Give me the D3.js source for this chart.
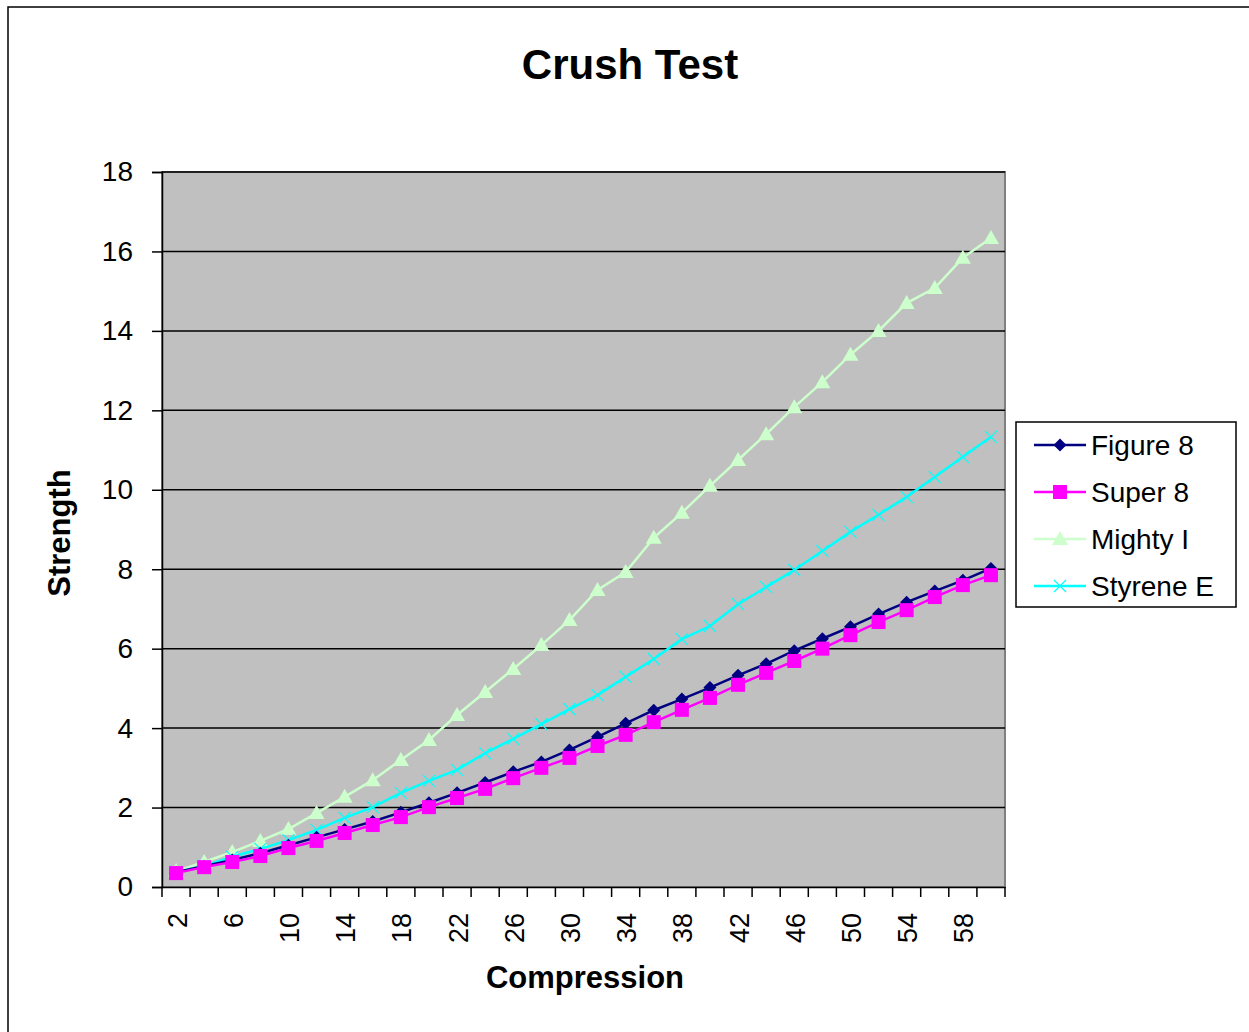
<!DOCTYPE html>
<html><head><meta charset="utf-8">
<script src="https://cdn.jsdelivr.net/npm/d3@7"></script>
<style>body{margin:0;background:#fff;font-family:"Liberation Sans",Arial,sans-serif}</style>
</head><body><svg id="c" width="1249" height="1032"></svg>
<script>
const categories = d3.range(2, 61, 2);
const figure8 = [0.37,0.52,0.68,0.85,1.05,1.25,1.45,1.65,1.88,2.12,2.37,2.63,2.9,3.15,3.45,3.78,4.12,4.45,4.73,5.02,5.33,5.62,5.95,6.25,6.55,6.87,7.17,7.45,7.72,8.02];
const super8 = [0.35,0.5,0.63,0.78,0.98,1.16,1.36,1.56,1.76,2.01,2.24,2.47,2.74,3.0,3.25,3.55,3.83,4.15,4.46,4.76,5.09,5.39,5.69,6.0,6.34,6.67,6.97,7.3,7.6,7.85];
const mightyI = [0.4,0.63,0.88,1.16,1.46,1.86,2.27,2.69,3.2,3.7,4.33,4.91,5.49,6.09,6.72,7.48,7.93,8.79,9.42,10.1,10.75,11.4,12.08,12.71,13.4,14.0,14.7,15.08,15.84,16.34];
const styreneE = [0.38,0.53,0.76,0.96,1.18,1.44,1.74,2.01,2.37,2.67,2.95,3.37,3.73,4.1,4.48,4.83,5.29,5.74,6.24,6.57,7.12,7.55,7.98,8.46,8.94,9.37,9.82,10.32,10.83,11.33];
const yTicks = [0,2,4,6,8,10,12,14,16,18];
const seriesNames = ["Figure 8","Super 8","Mighty I","Styrene E"];
const seriesColors = ["#000080","#ff00ff","#ccffcc","#00ffff"];
const seriesMarkers = ["diamond","square","triangle","x"];
const seriesData = [figure8, super8, mightyI, styreneE];

const svg = d3.select("#c");
const font = '"Liberation Sans",Arial,sans-serif';
svg.append("rect").attr("x",8).attr("y",7).attr("width",1260).attr("height",1040)
  .attr("fill","#fff").attr("stroke","#000").attr("stroke-width",1.5);

const L=162,R=1005,T=172,B=887;
const x = d3.scaleBand().domain(categories).range([L,R]).padding(0);
const y = d3.scaleLinear().domain([0,18]).range([B,T]);

svg.append("rect").attr("x",L).attr("y",T).attr("width",R-L).attr("height",B-T)
  .attr("fill","#c0c0c0").attr("stroke","#808080").attr("stroke-width",2);

// gridlines
svg.append("g").selectAll("line").data(yTicks.filter(d=>d>0)).join("line")
  .attr("x1",L).attr("x2",R).attr("y1",d=>y(d)).attr("y2",d=>y(d))
  .attr("stroke","#000").attr("stroke-width",1.5);

// y axis
const ya = svg.append("g").attr("transform",`translate(${L},0)`)
  .call(d3.axisLeft(y).tickValues(yTicks).tickSize(10).tickPadding(19));
ya.select(".domain").attr("stroke","#000").attr("stroke-width",1.5);
ya.selectAll(".tick line").attr("stroke","#000").attr("stroke-width",1.5);
ya.selectAll("text").attr("font-family",font).attr("font-size",28).attr("fill","#000");

// x axis
const xa = svg.append("g").attr("transform",`translate(0,${B})`)
  .call(d3.axisBottom(x).tickValues(categories.filter((d,i)=>i%2===0)).tickSize(0).tickPadding(0));
xa.select(".domain").attr("stroke","#000").attr("stroke-width",1.5);
xa.selectAll("text").attr("font-family",font).attr("font-size",27).attr("fill","#000")
  .attr("text-anchor","end").attr("dy","0.35em")
  .attr("transform","translate(1,26) rotate(-90)").attr("x",0).attr("y",0);
const bounds = categories.map(c=>x(c)).concat([R]);
svg.append("g").selectAll("line").data(bounds).join("line")
  .attr("x1",d=>d).attr("x2",d=>d).attr("y1",B).attr("y2",B+10)
  .attr("stroke","#000").attr("stroke-width",1.5);

// series
const cx = c => x(c)+x.bandwidth()/2;
const line = d3.line().x((d,i)=>cx(categories[i])).y(d=>y(d));
function marker(g,type,color,px,py){
  if(type==="diamond") g.append("path").attr("d",`M${px},${py-6.5}L${px+6.5},${py}L${px},${py+6.5}L${px-6.5},${py}Z`).attr("fill",color);
  else if(type==="square") g.append("rect").attr("x",px-7).attr("y",py-7).attr("width",14).attr("height",14).attr("fill",color);
  else if(type==="triangle") g.append("path").attr("d",`M${px},${py-8}L${px+8},${py+6}L${px-8},${py+6}Z`).attr("fill",color);
  else g.append("path").attr("d",`M${px-6},${py-6}L${px+6},${py+6}M${px+6},${py-6}L${px-6},${py+6}`).attr("stroke",color).attr("stroke-width",1.2).attr("fill","none");
}
[2,3,0,1].forEach(si=>{
  const g = svg.append("g");
  g.append("path").datum(seriesData[si]).attr("d",line).attr("fill","none")
    .attr("stroke",seriesColors[si]).attr("stroke-width",2.5);
  seriesData[si].forEach((v,i)=>marker(g,seriesMarkers[si],seriesColors[si],cx(categories[i]),y(v)));
});

// titles
svg.append("text").attr("x",630).attr("y",79).attr("text-anchor","middle")
  .attr("font-family",font).attr("font-weight","bold").attr("font-size",42).text("Crush Test");
svg.append("text").attr("x",585).attr("y",988).attr("text-anchor","middle")
  .attr("font-family",font).attr("font-weight","bold").attr("font-size",31).text("Compression");
svg.append("text").attr("transform","translate(70,533) rotate(-90)").attr("text-anchor","middle")
  .attr("font-family",font).attr("font-weight","bold").attr("font-size",31).text("Strength");

// legend
const lg = svg.append("g");
lg.append("rect").attr("x",1016).attr("y",422).attr("width",220).attr("height",185)
  .attr("fill","#fff").attr("stroke","#000").attr("stroke-width",1.5);
seriesNames.forEach((n,i)=>{
  const ly = 445 + i*47;
  lg.append("line").attr("x1",1034).attr("x2",1086).attr("y1",ly).attr("y2",ly)
    .attr("stroke",seriesColors[i]).attr("stroke-width",2.5);
  marker(lg,seriesMarkers[i],seriesColors[i],1060,ly);
  lg.append("text").attr("x",1091).attr("y",ly).attr("dy","0.35em")
    .attr("font-family",font).attr("font-size",28).attr("fill","#000").text(n);
});
</script></body></html>
